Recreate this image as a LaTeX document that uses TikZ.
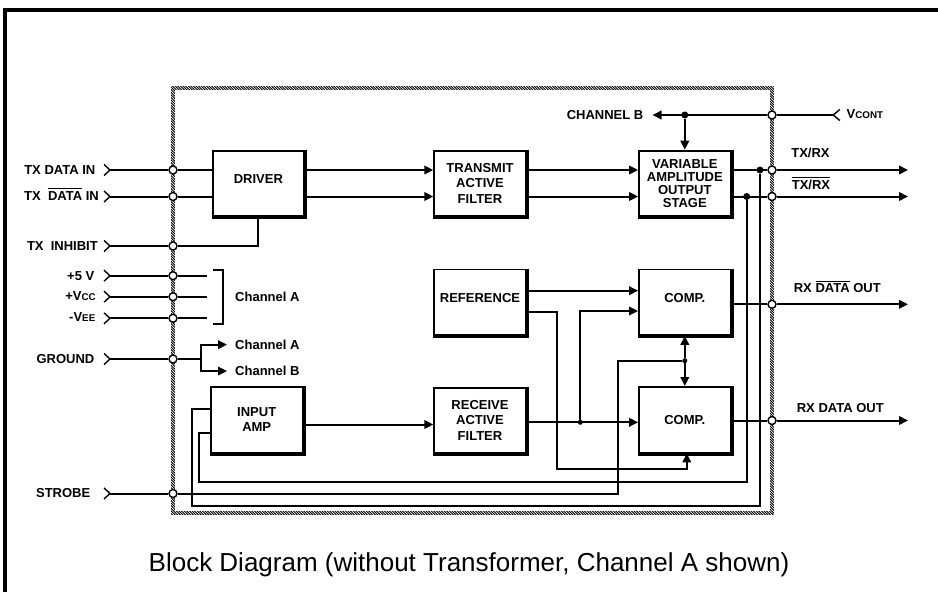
\documentclass[tikz,border=0pt]{standalone}
\usepackage{fontspec}
\setsansfont{Liberation Sans}
\usetikzlibrary{arrows.meta,patterns}
\newcommand{\ovl}[1]{\leavevmode\vbox{\hrule height 1.2pt\kern 1.6pt\hbox{#1}}}
\newcommand{\smc}[1]{{\fontsize{9.8}{10}\selectfont #1}}
\pgfdeclarepatternformonly{hatch}{\pgfqpoint{-1pt}{-1pt}}{\pgfqpoint{4pt}{4pt}}{\pgfqpoint{2.6pt}{2.6pt}}{%
  \pgfsetlinewidth{0.9pt}\pgfpathmoveto{\pgfqpoint{-0.1pt}{2.7pt}}\pgfpathlineto{\pgfqpoint{2.7pt}{-0.1pt}}\pgfusepath{stroke}}

\begin{document}
\begin{tikzpicture}[x=1pt, y=-1pt,
  font=\sffamily\bfseries\fontsize{13}{15.6}\selectfont,
  >={Triangle[length=9pt,width=8.5pt]},
  wire/.style={line width=2},
  blk/.style={draw, line width=1.9, minimum width=91.5pt, minimum height=65.5pt, align=center, inner sep=0},
  hiblk/.style={blk, text depth=8pt},
  lbl/.style={inner sep=0},
  pin/.style={circle, draw, fill=white, line width=1.4, minimum size=8pt, inner sep=0},
  dot/.style={circle, fill, minimum size=7pt, inner sep=0},
  sdot/.style={circle, fill, minimum size=5pt, inner sep=0},
  chev/.style={line width=1.4}]
  \useasboundingbox (0,0) rectangle (938,592);
  % page frame and hatched package outline
  \draw[line width=3.4] (5,592) -- (5,10) -- (938,10);
  \fill[pattern=hatch, even odd rule]
    (171.2,86.2) rectangle (773.8,514.8) (174.8,89.8) rectangle (770.2,511.2);

  % blocks
  \node[hiblk] (drv) at (258.4,183.4) {DRIVER};
  \node[blk] (taf)  at (480,183.4)   {TRANSMIT\\ACTIVE\\FILTER};
  \node[blk] (vaos) at (684.8,183.4) {VARIABLE\\[-2.4pt]AMPLITUDE\\[-2.4pt]OUTPUT\\[-2.4pt]STAGE};
  \node[hiblk] (ref) at (480,302.2)  {REFERENCE};
  \node[hiblk] (cmp1) at (684.8,302.2) {COMP.};
  \node[blk] (raf)  at (480,420.3)   {RECEIVE\\ACTIVE\\FILTER};
  \node[blk] (cmp2) at (684.8,419.7) {COMP.};
  \node[blk] (amp)  at (256.7,419.7) {INPUT\\AMP};
  \foreach \b in {drv,taf,vaos,ref,cmp1,raf,cmp2,amp}
    \draw[line width=3] ([shift={(0.7,0)}]\b.north east) -- ([shift={(0.7,0.7)}]\b.south east)
      -- ([shift={(0,0.7)}]\b.south west);

  % input pins
  \foreach \nm/\y/\b/\tx/\txt in {txd/170/174.3/95.5/{TX DATA IN}, txdb/196.5/200/99/{TX\ \ \ovl{DATA} IN},
      inh/246/250.7/98/{TX\ \ INHIBIT}, p5/275.7/280/94.5/{+5 V}, vcc/296.7/300.7/96/{+V\smc{CC}},
      vee/318.3/321.7/95.5/{-V\smc{EE}}, gnd/359/363.3/94.5/{GROUND}, strb/493.5/497.3/90.5/{STROBE}} {
    \node[lbl, anchor=base east] (t\nm) at (\tx,\b) {\txt};
    \coordinate (c\nm) at (110,\y);
    \draw[chev] (c\nm) ++(-6,-5.5) -- (c\nm) -- ++(-6,5.5);
    \node[pin] (p\nm) at (173,\y) {};
    \draw[wire] (c\nm) -- (p\nm);
  }

  % output pins
  \foreach \nm/\y in {txrx/170, txrxb/196.5, rxdb/304.3, rxd/420.5} {
    \node[pin] (p\nm) at (772,\y) {};
    \coordinate (o\nm) at (908,\y);
    \draw[wire,->] (p\nm) -- (o\nm);
  }
  \node[lbl, anchor=base] (ltxrx)  at (810.5,157.3) {TX/RX};
  \node[lbl, anchor=base] (ltxrxb) at (811,189.5)   {\ovl{TX/RX}};
  \node[lbl, anchor=base] (lrxdb)  at (837.3,292.7) {RX \ovl{DATA} OUT};
  \node[lbl, anchor=base] (lrxd)   at (840.3,412.7) {RX DATA OUT};

  % gain control input
  \node[pin] (pvc) at (772,115) {};
  \coordinate (cvc) at (833.3,115);
  \draw[chev] (cvc) ++(6.5,-5.5) -- (cvc) -- ++(6.5,5.5);
  \node[lbl, anchor=base west] (tvc) at (846.5,118.3) {V\smc{CONT}};
  \draw[wire] (cvc) -- (pvc);
  \node[lbl, anchor=base east] (chB) at (643.5,119) {CHANNEL B};
  \draw[wire,->,shorten >=9pt] (pvc) -- (chB.east |- pvc);
  \node[dot] (dvc) at (vaos.north |- pvc) {};
  \draw[wire,->] (dvc) -- (vaos.north);

  % transmit path
  \draw[wire] (ptxd) -- (ptxd -| drv.west);
  \draw[wire] (ptxdb) -- (ptxdb -| drv.west);
  \draw[wire] (pinh) -| (drv.south);
  \draw[wire,->] (drv.east |- ptxd) -- (taf.west |- ptxd);
  \draw[wire,->] (drv.east |- ptxdb) -- (taf.west |- ptxdb);
  \draw[wire,->] (taf.east |- ptxd) -- (vaos.west |- ptxd);
  \draw[wire,->] (taf.east |- ptxdb) -- (vaos.west |- ptxdb);
  \draw[wire] (vaos.east |- ptxrx) -- (ptxrx);
  \draw[wire] (vaos.east |- ptxrxb) -- (ptxrxb);

  % line taps back to the input amp
  \node[dot] (dA) at (760,170) {};
  \node[dot] (dB) at (746.7,196.5) {};
  \coordinate (fA) at (192,506);
  \coordinate (fB) at (199.3,481.7);
  \draw[wire] (dA) |- (fA) |- (amp.west |- 0,409.3);
  \draw[wire] (dB) |- (fB) |- (amp.west |- 0,432.7);

  % supplies and ground
  \coordinate (pend) at (207,0);
  \foreach \nm in {p5,vcc,vee} \draw[wire] (p\nm) -- (p\nm -| pend);
  \draw[wire] (213,270) -| (222.7,324.3) -- (213,324.3);
  \node[lbl, anchor=base west] (chA) at (235,301) {Channel A};
  \coordinate (gsp) at (201,359);
  \node[lbl, anchor=base west] (gA) at (235,349.3) {Channel A};
  \node[lbl, anchor=base west] (gB) at (235,375.7) {Channel B};
  \draw[wire] (pgnd) -- (gsp);
  \draw[wire,->,shorten >=8pt] (gsp) |- (gA.west);
  \draw[wire,->,shorten >=8pt] (gsp) |- (gB.west);

  % receive path
  \draw[wire,->] (amp.east |- 0,424.5) -- (raf.west |- 0,424.5);
  \node[sdot] (dR) at (580.3,422.3) {};
  \draw[wire,->] (raf.east |- dR) -- (cmp2.west |- dR);
  \draw[wire,->] (dR) |- (cmp1.west |- 0,311);
  \draw[wire,->] (ref.east |- 0,290.7) -- (cmp1.west |- 0,290.7);
  \coordinate (rB) at (557.3,469);
  \draw[wire,->] (ref.east |- 0,311.7) -| (rB) -| ([xshift=2pt]cmp2.south);
  \draw[wire] (cmp1.east |- prxdb) -- (prxdb);
  \draw[wire] (cmp2.east |- prxd) -- (prxd);

  % strobe
  \node[sdot] (dS) at (cmp1.south |- 0,360.7) {};
  \draw[wire] (pstrb) -| (618.3,360.7) -- (dS);
  \draw[wire,->] (dS) -- (cmp1.south);
  \draw[wire,->] (dS) -- (cmp2.north);

  \node[font=\sffamily\fontsize{26}{30}\selectfont] (cap) at (469,565)
    {Block Diagram (without Transformer, Channel A shown)};
\end{tikzpicture}
\end{document}
